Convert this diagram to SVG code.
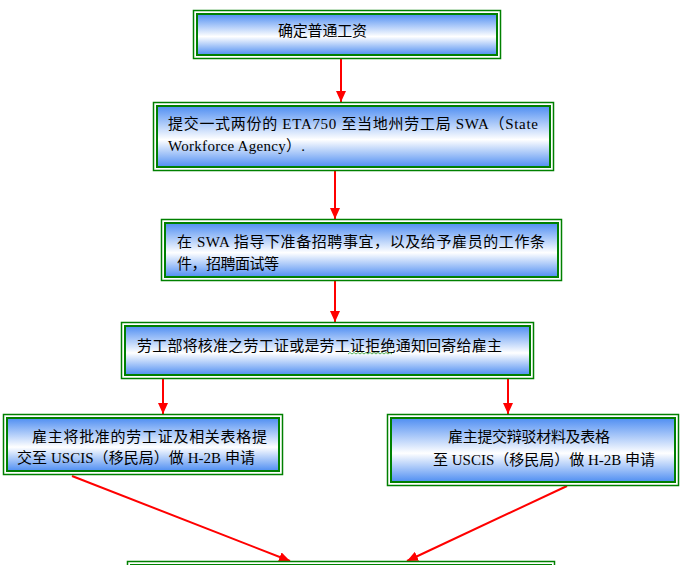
<svg xmlns="http://www.w3.org/2000/svg" width="684" height="565" viewBox="0 0 684 565">
<defs>
<linearGradient id="fill" x1="0" y1="0" x2="0" y2="1">
<stop offset="0" stop-color="#4f8ef2"/>
<stop offset="0.55" stop-color="#ffffff"/>
<stop offset="1" stop-color="#4f8ef2"/>
</linearGradient>
<marker id="ah" markerUnits="userSpaceOnUse" markerWidth="12" markerHeight="10" refX="11" refY="5" orient="auto">
<path d="M0,0 L11,5 L0,10 Z" fill="#ff0000"/>
</marker>
</defs>
<style>
.outer{fill:#ffffff;stroke:#008000;stroke-width:1.5}
.inner{fill:url(#fill);stroke:#008000;stroke-width:2}
.t{font-family:"Liberation Serif","Noto Sans CJK SC",serif;font-size:15px;fill:#000000}
.c{stroke:#ff0000;stroke-width:2;fill:none;marker-end:url(#ah)}
</style>
<g id="connectors">
<line class="c" x1="341" y1="59" x2="341" y2="102"/>
<line class="c" x1="335" y1="171" x2="335" y2="219"/>
<line class="c" x1="335" y1="281" x2="335" y2="322"/>
<line class="c" x1="163" y1="379" x2="163" y2="414"/>
<line class="c" x1="508" y1="379" x2="508" y2="414"/>
<line class="c" x1="72" y1="476" x2="290" y2="561"/>
<line class="c" x1="567" y1="486" x2="407" y2="561"/>
</g>
<g id="n1">
<rect class="outer" x="193.5" y="10.5" width="307" height="48"/>
<rect class="inner" x="197" y="14" width="300" height="41"/>
<text class="t" x="278" y="36" textLength="89" lengthAdjust="spacing">确定普通工资</text>
</g>
<g id="n2">
<rect class="outer" x="153.5" y="102.5" width="400" height="68"/>
<rect class="inner" x="157" y="106" width="393" height="61"/>
<text class="t" x="168" y="129" textLength="370" lengthAdjust="spacing">提交一式两份的 ETA750 至当地州劳工局 SWA（State</text>
<text class="t" x="168" y="151" textLength="137" lengthAdjust="spacing">Workforce Agency）.</text>
</g>
<g id="n3">
<rect class="outer" x="161.5" y="219.5" width="400" height="61"/>
<rect class="inner" x="165" y="223" width="393" height="54"/>
<text class="t" x="177" y="247" textLength="368" lengthAdjust="spacing">在 SWA 指导下准备招聘事宜，以及给予雇员的工作条</text>
<text class="t" x="177" y="269" textLength="102" lengthAdjust="spacing">件，招聘面试等</text>
</g>
<g id="n4">
<rect class="outer" x="121.5" y="322.5" width="412" height="56"/>
<rect class="inner" x="125" y="326" width="405" height="49"/>
<text class="t" x="137" y="351" textLength="365" lengthAdjust="spacing">劳工部将核准之劳工证或是劳工证拒绝通知回寄给雇主</text>
<path d="M348,354 l2,-1.5 l2,1.5 l2,-1.5 l2,1.5 l2,-1.5 l2,1.5 l2,-1.5 l2,1.5 l2,-1.5 l2,1.5 l2,-1.5 l2,1.5 l2,-1.5 l2,1.5 l2,-1.5 l2,1.5 l2,-1.5 l2,1.5 l2,-1.5 l2,1.5 l2,-1.5 l2,1.5" fill="none" stroke="#2e9e2e" stroke-width="0.8"/>
</g>
<g id="n5">
<rect class="outer" x="3.5" y="414.5" width="279" height="60"/>
<rect class="inner" x="7" y="418" width="272" height="53"/>
<text class="t" x="32" y="442" textLength="235" lengthAdjust="spacing">雇主将批准的劳工证及相关表格提</text>
<text class="t" x="17" y="463" textLength="238" lengthAdjust="spacing">交至 USCIS（移民局）做 H-2B 申请</text>
</g>
<g id="n6">
<rect class="outer" x="387.5" y="414.5" width="291" height="71"/>
<rect class="inner" x="391" y="418" width="284" height="64"/>
<text class="t" x="448" y="442" textLength="162" lengthAdjust="spacing">雇主提交辩驳材料及表格</text>
<text class="t" x="433" y="465" textLength="222" lengthAdjust="spacing">至 USCIS（移民局）做 H-2B 申请</text>
</g>
<g id="n7">
<rect class="outer" x="127.5" y="561.5" width="427" height="60"/>
<rect class="inner" x="131" y="565" width="420" height="53"/>
</g>
</svg>
